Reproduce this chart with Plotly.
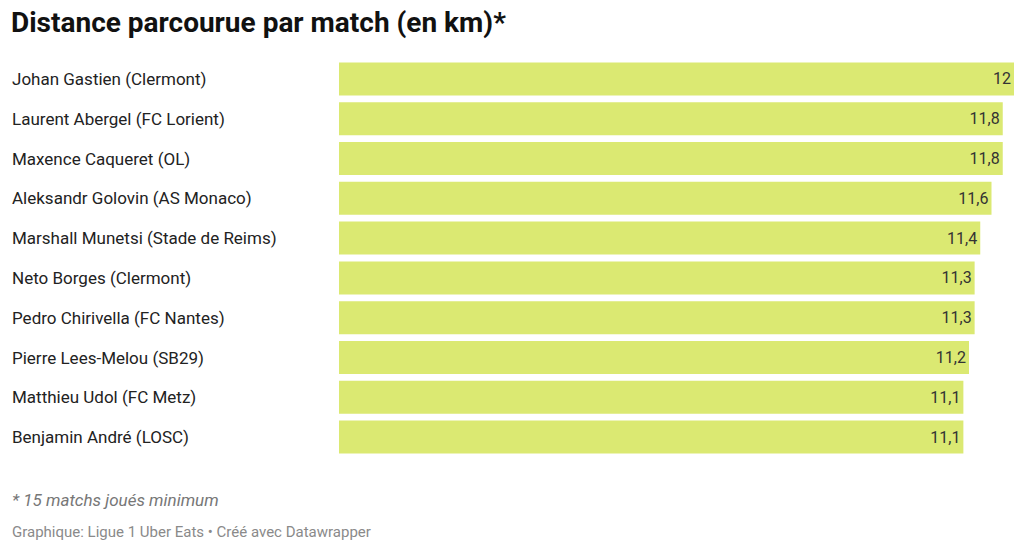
import plotly.graph_objects as go

players = ["Johan Gastien (Clermont)", "Laurent Abergel (FC Lorient)", "Maxence Caqueret (OL)",
           "Aleksandr Golovin (AS Monaco)", "Marshall Munetsi (Stade de Reims)", "Neto Borges (Clermont)",
           "Pedro Chirivella (FC Nantes)", "Pierre Lees-Melou (SB29)", "Matthieu Udol (FC Metz)",
           "Benjamin André (LOSC)"]
distance = [12, 11.8, 11.8, 11.6, 11.4, 11.3, 11.3, 11.2, 11.1, 11.1]
labels = [str(v).replace(".", ",") for v in distance]

# page body adds ~8px margin, so draw on a slightly smaller canvas shifted by 8px
OFF = 8
W, H = 1024 - 2 * OFF, 552 - 2 * OFF


def px(x):
    return (x - OFF) / W


def py(y):
    return 1 - (y - OFF) / H


fig = go.Figure(go.Bar(
    x=distance, y=players, orientation="h",
    marker=dict(color="#dbe972", line=dict(width=0)),
    text=labels, textposition="inside", insidetextanchor="end",
    textfont=dict(size=16, color="#333333", family="Roboto"),
    hoverinfo="skip"))

annotations = [dict(text=p, x=px(10), y=p, xref="paper", yref="y", xanchor="left",
                    showarrow=False, font=dict(size=17, color="#222222", family="Roboto"))
               for p in players]
annotations += [
    dict(text="<b>Distance parcourue par match (en km)*</b>", x=px(9), y=py(22),
         xref="paper", yref="paper", xanchor="left", yanchor="middle", showarrow=False,
         font=dict(size=28, color="#111111", family="Roboto")),
    dict(text="<i>* 15 matchs joués minimum</i>", x=px(10), y=py(500),
         xref="paper", yref="paper", xanchor="left", yanchor="middle", showarrow=False,
         font=dict(size=17, color="#777777", family="Roboto")),
    dict(text="Graphique: Ligue 1 Uber Eats • Créé avec Datawrapper", x=px(10), y=py(532),
         xref="paper", yref="paper", xanchor="left", yanchor="middle", showarrow=False,
         font=dict(size=15, color="#8a8a8a", family="Roboto")),
]

fig.update_layout(
    width=W, height=H, margin=dict(l=0, r=0, t=0, b=0),
    plot_bgcolor="white", paper_bgcolor="white", showlegend=False,
    bargap=0.17, annotations=annotations,
    xaxis=dict(domain=[px(339), px(1014)], range=[0, 12], visible=False),
    yaxis=dict(domain=[py(457), py(59)], autorange="reversed",
               showticklabels=False, showgrid=False),
)
fig.write_html("out.html")
